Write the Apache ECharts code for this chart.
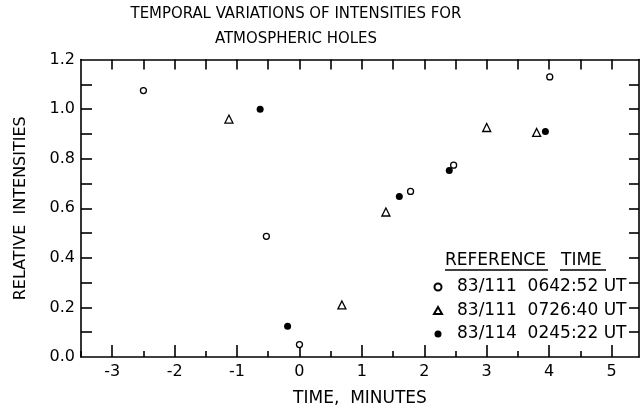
<!DOCTYPE html>
<html>
<head>
    <meta charset="utf-8">
    <title>Temporal variations of intensities</title>
    <script src="https://cdn.jsdelivr.net/npm/echarts@6/dist/echarts.min.js"></script>
    <style>
        html, body { margin: 0; padding: 0; background: #fff; }
        #main { width: 640px; height: 412px; }
    </style>
</head>
<body>
<div id="main"></div>
<script>
    // values (time in minutes, relative intensity)
    var seriesNames = ['83/111  0642:52 UT', '83/111  0726:40 UT', '83/114  0245:22 UT'];
    var openCircle = [[-2.5, 1.075], [-0.53, 0.487], [0, 0.05], [1.78, 0.668], [2.47, 0.774], [4.01, 1.13]];
    var openTriangle = [[-1.13, 0.96], [0.68, 0.21], [1.385, 0.585], [3.0, 0.926], [3.8, 0.906]];
    var filledCircle = [[-0.63, 1.0], [-0.19, 0.124], [1.6, 0.648], [2.4, 0.753], [3.94, 0.91]];

    // ticks and labels
    var xLabels = [-3, -2, -1, 0, 1, 2, 3, 4, 5];
    var xMinorTicks = [-3.5, -2.5, -1.5, -0.5, 0.5, 1.5, 2.5, 3.5, 4.5];
    var xTopTicks = [-3, -2.5, -2, -1.5, -1, -0.5, 0, 0.5, 1, 1.5, 2, 2.5, 3, 3.5, 4, 4.5, 5];
    var yLabels = [0, 0.2, 0.4, 0.6, 0.8, 1.0, 1.2];
    var yTicks = [0.1, 0.2, 0.3, 0.4, 0.5, 0.6, 0.7, 0.8, 0.9, 1.0, 1.1];

    var font = 'DejaVu Sans';
    var ink = '#000';
    var lineStyle = {color: ink, width: 1.6};

    var myChart = echarts.init(document.getElementById('main'));

    var option = {
        backgroundColor: '#fff',
        animation: false,
        title: {
            text: 'TEMPORAL VARIATIONS OF INTENSITIES FOR\nATMOSPHERIC HOLES',
            left: 296,
            top: 1,
            padding: 0,
            textAlign: 'center',
            textStyle: {
                fontFamily: 'DejaVu Sans Condensed',
                fontWeight: 'normal',
                fontSize: 16.6,
                lineHeight: 25,
                color: ink
            }
        },
        grid: {left: 81, right: 1, top: 59.6, bottom: 54.4},
        legend: {
            orient: 'vertical',
            left: 433,
            top: 277,
            padding: 0,
            itemGap: 3.5,
            itemWidth: 8,
            itemHeight: 7,
            data: seriesNames,
            textStyle: {fontFamily: font, fontSize: 17, lineHeight: 20, color: ink, padding: [0, 0, 0, 10]}
        },
        graphic: [
            {type: 'text', left: 445, top: 252, style: {text: 'REFERENCE', fontFamily: font, fontSize: 17, fill: ink}},
            {type: 'text', left: 561, top: 252, style: {text: 'TIME', fontFamily: font, fontSize: 17, fill: ink}},
            {type: 'line', shape: {x1: 445, y1: 270, x2: 548, y2: 270}, style: {stroke: ink, lineWidth: 1.4}},
            {type: 'line', shape: {x1: 560, y1: 270, x2: 606, y2: 270}, style: {stroke: ink, lineWidth: 1.4}}
        ],
        xAxis: [
            {
                type: 'value', min: -3.5, max: 5.44, position: 'bottom',
                name: 'TIME,  MINUTES', nameLocation: 'middle', nameGap: 33,
                nameTextStyle: {fontFamily: font, fontSize: 17, color: ink},
                axisLine: {onZero: false, lineStyle: lineStyle},
                axisTick: {inside: true, length: 6, customValues: xMinorTicks, lineStyle: lineStyle},
                axisLabel: {
                    customValues: xLabels, margin: 7,
                    fontFamily: font, fontSize: 16, color: ink,
                    formatter: function (v) { return v < 0 ? '-' + Math.abs(v) : String(v); }
                },
                splitLine: {show: false}
            },
            {
                type: 'value', min: -3.5, max: 5.44, position: 'bottom',
                axisLine: {show: false, onZero: false},
                axisTick: {inside: true, length: 12, customValues: xLabels, lineStyle: lineStyle},
                axisLabel: {show: false},
                splitLine: {show: false}
            },
            {
                type: 'value', min: -3.5, max: 5.44, position: 'top',
                axisLine: {onZero: false, lineStyle: lineStyle},
                axisTick: {inside: true, length: 10, customValues: xTopTicks, lineStyle: lineStyle},
                axisLabel: {show: false},
                splitLine: {show: false}
            }
        ],
        yAxis: [
            {
                type: 'value', min: 0, max: 1.2, interval: 0.1, position: 'left',
                name: 'RELATIVE  INTENSITIES', nameLocation: 'middle', nameGap: 52, nameRotate: 90,
                nameTextStyle: {fontFamily: font, fontSize: 16, color: ink},
                axisLine: {onZero: false, lineStyle: lineStyle},
                axisTick: {inside: true, length: 11, customValues: yTicks, lineStyle: lineStyle},
                axisLabel: {
                    customValues: yLabels, margin: 6,
                    fontFamily: font, fontSize: 16, color: ink,
                    formatter: function (v) { return v.toFixed(1); }
                },
                splitLine: {show: false}
            },
            {
                type: 'value', min: 0, max: 1.2, interval: 0.1, position: 'right',
                axisLine: {onZero: false, lineStyle: lineStyle},
                axisTick: {inside: true, length: 10, customValues: yTicks, lineStyle: lineStyle},
                axisLabel: {show: false},
                splitLine: {show: false}
            }
        ],
        series: [
            {
                name: seriesNames[0], type: 'scatter', data: openCircle,
                symbol: 'circle', symbolSize: 6,
                itemStyle: {color: '#fff', borderColor: ink, borderWidth: 1.3, opacity: 1}
            },
            {
                name: seriesNames[1], type: 'scatter', data: openTriangle,
                symbol: 'triangle', symbolSize: 8,
                itemStyle: {color: '#fff', borderColor: ink, borderWidth: 1.3, opacity: 1}
            },
            {
                name: seriesNames[2], type: 'scatter', data: filledCircle,
                symbol: 'circle', symbolSize: 7,
                itemStyle: {color: ink, opacity: 1}
            }
        ]
    };

    myChart.setOption(option);
</script>
</body>
</html>
